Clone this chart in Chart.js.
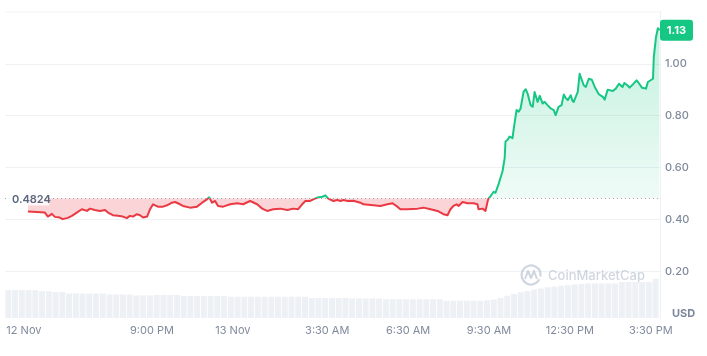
<!DOCTYPE html>
<html>
<head>
<meta charset="utf-8">
<style>
html,body{margin:0;padding:0;background:#fff;}
#wrap{width:707px;height:356px;position:relative;}
</style>
<script src="https://cdn.jsdelivr.net/npm/chart.js@4.4.1/dist/chart.umd.min.js"></script>
</head>
<body>
<div id="wrap"><canvas id="c" width="707" height="356"></canvas></div>
<script>
// ---- data (hours counted from 12 Nov 00:00) ----
const baselinePrice = 0.4824;
const priceHours = [
  16.40,16.73,17.03,17.14,17.29,17.40,17.58,17.69,17.88,18.03,18.21,18.40,18.59,18.70,18.88,
  19.07,19.26,19.37,19.55,19.74,19.92,20.07,20.18,20.30,20.44,20.56,20.67,20.82,20.93,21.04,21.22,
  21.41,21.56,21.74,21.86,22.04,22.15,22.41,22.67,22.86,23.04,23.12,23.23,23.34,23.45,23.64,23.90,
  24.16,24.38,24.64,24.90,25.09,25.27,25.50,25.76,26.02,26.24,26.42,26.57,26.69,26.87,26.98,27.13,
  27.32,27.43,27.54,27.73,27.87,27.99,28.10,28.25,28.47,28.73,28.84,29.21,29.47,29.73,29.92,30.10,
  30.21,30.47,30.85,31.07,31.33,31.59,31.81,31.96,32.07,32.18,32.30,32.37,32.52,32.70,32.93,33.07,
  33.11,33.26,33.37,33.45,33.48,33.56,33.67,33.74,33.85,34.00,34.08,34.11,34.19,34.26,34.37,34.41,
  34.52,34.60,34.67,34.78,34.86,34.93,35.04,35.12,35.19,35.30,35.38,35.49,35.56,35.67,35.79,35.90,
  35.97,36.08,36.19,36.27,36.34,36.42,36.53,36.60,36.64,36.79,36.86,37.01,37.09,37.20,37.31,37.42,
  37.57,37.72,37.79,37.90,38.09,38.20,38.32,38.45,38.52,38.63,38.71,38.86,38.97,39.05,39.17,39.32,
  39.39,39.58,39.61,39.69,39.76,39.83
];
const prices = [
  0.4310,0.4297,0.4270,0.4117,0.4220,0.4105,0.4078,0.4017,0.4067,0.4144,0.4270,0.4400,0.4335,0.4423,0.4373,
  0.4335,0.4373,0.4270,0.4170,0.4144,0.4117,0.4056,0.4144,0.4117,0.4209,0.4170,0.4078,0.4117,0.4400,0.4591,0.4500,
  0.4500,0.4553,0.4653,0.4679,0.4591,0.4526,0.4461,0.4500,0.4653,0.4783,0.4860,0.4653,0.4718,0.4526,0.4500,0.4591,
  0.4630,0.4591,0.4718,0.4591,0.4423,0.4335,0.4400,0.4423,0.4373,0.4423,0.4400,0.4591,0.4718,0.4718,0.4783,0.4850,
  0.4882,0.4936,0.4806,0.4718,0.4756,0.4718,0.4756,0.4718,0.4729,0.4653,0.4591,0.4553,0.4526,0.4591,0.4630,0.4500,
  0.4400,0.4400,0.4423,0.4461,0.4400,0.4335,0.4209,0.4170,0.4400,0.4526,0.4591,0.4526,0.4679,0.4630,0.4630,0.4591,
  0.4400,0.4423,0.4335,0.4718,0.4806,0.4910,0.5074,0.5035,0.5357,0.5866,0.6375,0.7014,0.7079,0.7206,0.7141,0.7462,
  0.8228,0.8163,0.8289,0.8928,0.9032,0.8863,0.8419,0.8354,0.8928,0.8545,0.8775,0.8480,0.8545,0.8419,0.8289,0.8228,
  0.8036,0.8354,0.8419,0.8825,0.8699,0.8611,0.8802,0.8572,0.8545,0.8928,0.9629,0.9185,0.9120,0.9437,0.9399,0.9120,
  0.8840,0.8737,0.8633,0.9016,0.8967,0.9055,0.9246,0.9120,0.9273,0.9185,0.9093,0.9246,0.9376,0.9273,0.9093,0.9055,
  0.9311,0.9437,1.0268,1.1033,1.1389,1.1313
];
const volumeStartHour = 15.55;
const volumeStepHours = 0.25;
const volumes = [
  1.00,1.00,1.00,1.00,1.00,0.96,0.96,0.93,0.93,0.88,0.88,0.88,0.88,0.88,0.88,0.84,
  0.84,0.84,0.84,0.81,0.81,0.81,0.83,0.83,0.83,0.83,0.79,0.79,0.79,0.79,0.79,0.79,
  0.79,0.76,0.76,0.76,0.76,0.76,0.76,0.76,0.76,0.76,0.76,0.76,0.76,0.72,0.72,0.72,
  0.72,0.72,0.72,0.70,0.70,0.70,0.70,0.70,0.67,0.67,0.67,0.67,0.67,0.67,0.67,0.67,
  0.67,0.62,0.62,0.62,0.62,0.62,0.62,0.64,0.66,0.72,0.80,0.86,0.92,0.97,1.02,1.06,
  1.10,1.13,1.16,1.18,1.20,1.22,1.24,1.24,1.24,1.24,1.24,1.29,1.29,1.29,1.29,1.29,
  1.41
];
const xMinHour = 15.55;
const xMaxHour = 39.84;
const xTickHours = [16.25, 21, 24, 27.5, 30.5, 33.5, 36.5, 39.5];
const xTickLabels = ['12 Nov', '9:00 PM', '13 Nov', '3:30 AM', '6:30 AM', '9:30 AM', '12:30 PM', '3:30 PM'];
const yTickValues = [0.2, 0.4, 0.6, 0.8, 1.0];
const yMin = 0.0201, yMax = 1.2029;
const currencyLabel = 'USD';
const watermarkText = 'CoinMarketCap';

// ---- styles ----
const GREEN = '#16c784';
const RED = '#ea3943';
const FONT = 'Inter, "Noto Sans", sans-serif';
Chart.defaults.font.family = FONT;

function clamp01(v){ return Math.max(0, Math.min(1, v)); }
function basePixel(chart){ return chart.scales.y.getPixelForValue(baselinePrice); }

const decorPlugin = {
  id: 'decor',
  beforeDatasetsDraw(chart) {
    const ctx = chart.ctx, a = chart.chartArea;
    // watermark
    ctx.save();
    const cy = a.bottom - 43;
    const tx = a.right - 112;
    ctx.strokeStyle = 'rgba(170,180,198,0.55)';
    ctx.lineWidth = 2.2;
    ctx.beginPath();
    ctx.arc(tx - 17, cy, 9.5, 0.15 * Math.PI, 2.05 * Math.PI);
    ctx.stroke();
    ctx.lineWidth = 2;
    ctx.lineJoin = 'round';
    ctx.beginPath();
    ctx.moveTo(tx - 23, cy + 4);
    ctx.lineTo(tx - 20, cy - 4);
    ctx.lineTo(tx - 17, cy + 3);
    ctx.lineTo(tx - 14, cy - 4);
    ctx.lineTo(tx - 11, cy + 4);
    ctx.stroke();
    ctx.fillStyle = 'rgba(170,180,198,0.55)';
    ctx.font = '500 13px ' + FONT;
    ctx.textAlign = 'left';
    ctx.textBaseline = 'middle';
    ctx.fillText(watermarkText, tx, cy + 1);
    ctx.restore();
  },
  afterDatasetsDraw(chart) {
    const ctx = chart.ctx, a = chart.chartArea;
    ctx.save();
    // top border
    ctx.strokeStyle = '#eff2f5';
    ctx.lineWidth = 1;
    ctx.beginPath();
    ctx.moveTo(a.left, a.top + 0.5);
    ctx.lineTo(a.right, a.top + 0.5);
    ctx.stroke();
    // baseline dotted
    const yb = Math.round(basePixel(chart)) + 0.5;
    ctx.strokeStyle = '#a1a7bb';
    ctx.setLineDash([1, 3]);
    ctx.beginPath();
    ctx.moveTo(a.left, yb);
    ctx.lineTo(a.right, yb);
    ctx.stroke();
    ctx.setLineDash([]);
    // baseline label
    ctx.fillStyle = 'rgba(255,255,255,0.8)';
    ctx.fillRect(a.left + 2, yb - 7, 42, 14);
    ctx.fillStyle = '#58667e';
    ctx.font = '600 11px ' + FONT;
    ctx.textAlign = 'left';
    ctx.textBaseline = 'middle';
    ctx.fillText(baselinePrice.toFixed(4), a.left + 7, yb + 1);
    // last price box
    const last = prices[prices.length - 1];
    const yl = chart.scales.y.getPixelForValue(last);
    ctx.fillStyle = GREEN;
    ctx.beginPath();
    ctx.roundRect(a.right, yl - 10.5, 33, 21, 3);
    ctx.fill();
    ctx.fillStyle = '#ffffff';
    ctx.font = '700 11px ' + FONT;
    ctx.textAlign = 'center';
    ctx.fillText(last.toFixed(2), a.right + 16.5, yl + 0.5);
    // currency label
    ctx.fillStyle = '#7d879b';
    ctx.font = '700 11px ' + FONT;
    ctx.textAlign = 'left';
    ctx.fillText(currencyLabel, a.right + 12, a.bottom - 4);
    ctx.restore();
  }
};

const chart = new Chart(document.getElementById('c'), {
  type: 'line',
  data: {
    datasets: [
      {
        type: 'line',
        data: priceHours.map((h, i) => ({ x: h, y: prices[i] })),
        xAxisID: 'x',
        yAxisID: 'y',
        borderWidth: 2,
        pointRadius: 0,
        tension: 0,
        borderJoinStyle: 'round',
        borderColor: (c) => {
          const ch = c.chart, a = ch.chartArea;
          if (!a) return GREEN;
          const f = clamp01((basePixel(ch) - a.top) / (a.bottom - a.top));
          const g = ch.ctx.createLinearGradient(0, a.top, 0, a.bottom);
          g.addColorStop(0, GREEN); g.addColorStop(f, GREEN);
          g.addColorStop(f, RED); g.addColorStop(1, RED);
          return g;
        },
        backgroundColor: (c) => {
          const ch = c.chart, a = ch.chartArea;
          if (!a) return 'rgba(22,199,132,0.15)';
          const g = ch.ctx.createLinearGradient(0, a.top, 0, basePixel(ch));
          g.addColorStop(0, 'rgba(22,199,132,0.28)');
          g.addColorStop(1, 'rgba(22,199,132,0.07)');
          return g;
        },
        fill: { target: { value: baselinePrice }, below: 'rgba(234,57,67,0.22)' },
        order: 0
      },
      {
        type: 'bar',
        data: volumes.map((v, i) => ({ x: volumeStartHour + volumeStepHours * (i + 0.5), y: v })),
        xAxisID: 'x',
        yAxisID: 'yv',
        backgroundColor: '#edf0f4',
        borderWidth: 0,
        barPercentage: 1,
        categoryPercentage: 0.88,
        order: 1
      }
    ]
  },
  options: {
    responsive: false,
    animation: false,
    devicePixelRatio: 1,
    layout: { padding: { left: 5, top: 9, right: 0, bottom: 0 } },
    plugins: { legend: { display: false }, tooltip: { enabled: false } },
    scales: {
      x: {
        type: 'linear',
        position: 'bottom',
        min: xMinHour,
        max: xMaxHour,
        offset: false,
        grid: { display: false, drawTicks: false },
        border: { display: false },
        afterBuildTicks: (s) => { s.ticks = xTickHours.map(v => ({ value: v })); },
        afterFit: (s) => { s.height = 38; },
        ticks: {
          autoSkip: false,
          maxRotation: 0,
          padding: 6,
          color: '#808a9d',
          font: { size: 11 },
          callback: (v, i) => xTickLabels[i]
        }
      },
      y: {
        type: 'linear',
        position: 'right',
        min: yMin,
        max: yMax,
        grid: { color: '#eff2f5', drawTicks: false },
        border: { display: true, color: '#eff2f5' },
        afterBuildTicks: (s) => { s.ticks = yTickValues.map(v => ({ value: v })); },
        afterFit: (s) => { s.width = 47; },
        ticks: {
          padding: 5,
          color: '#808a9d',
          font: { size: 11, weight: '500' },
          callback: (v) => Number(v).toFixed(2)
        }
      },
      yv: {
        type: 'linear',
        display: false,
        min: 0,
        max: 11
      }
    }
  },
  plugins: [decorPlugin]
});
</script>
</body>
</html>
